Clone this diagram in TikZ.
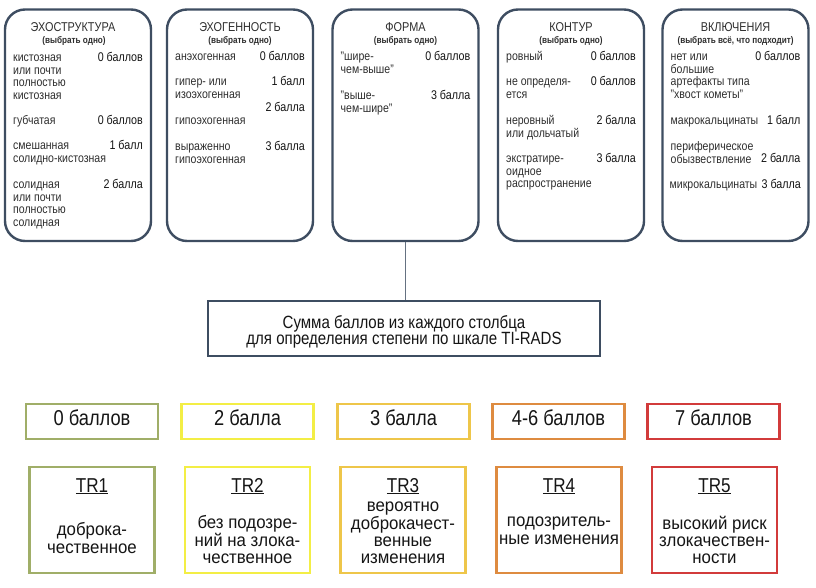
\documentclass[tikz,border=0pt]{standalone}
\usepackage{fontspec}
\setmainfont{Liberation Sans}[FakeStretch=0.85]
\setsansfont{Liberation Sans}[FakeStretch=0.85]
\newfontfamily\trfont{Liberation Sans}[FakeStretch=0.94]
\newcommand\tightls{\lineskiplimit=-20pt\relax}
\definecolor{boxc}{HTML}{3E4D61}
\definecolor{txtc}{HTML}{2E2E2E}
\definecolor{valc}{HTML}{151515}
\definecolor{cgreen}{HTML}{A0AE68}
\definecolor{cyellow}{HTML}{F3EE45}
\definecolor{cgold}{HTML}{EEC64A}
\definecolor{corange}{HTML}{DE8B40}
\definecolor{cred}{HTML}{D23B3B}
\tikzset{
  topbox/.style={draw=boxc, line width=2.4pt, rounded corners=20pt, minimum width=146pt, minimum height=231.5pt, inner sep=0pt},
  ttl/.style={anchor=base, inner sep=0pt, font=\fontsize{12.8}{13}\selectfont, text=txtc},
  sub/.style={anchor=base, inner sep=0pt, font=\fontsize{9.6}{10}\selectfont\bfseries, text=txtc},
  lab/.style={anchor=north west, inner sep=0pt, align=left, font=\fontsize{12.4}{12.7}\selectfont\tightls, text=txtc},
  val/.style={anchor=base east, inner sep=0pt, font=\fontsize{12.6}{12.7}\selectfont, text=valc},
  sumbox/.style={draw=boxc, line width=2pt, minimum width=392pt, minimum height=55pt, inner sep=0pt},
  sumt/.style={anchor=north, inner sep=0pt, align=center, font=\fontsize{17.7}{16}\selectfont\tightls, text=valc},
  conn/.style={draw=boxc!80, line width=0.9pt},
  scorebox/.style={line width=2.8pt, fill=white, minimum width=132pt, minimum height=35pt, inner sep=0pt, font=\fontsize{21.5}{22}\selectfont, text=valc, text height=0.72em, text depth=0pt},
  trbox/.style={line width=2.8pt, minimum width=125pt, minimum height=106pt, inner sep=0pt},
  trt/.style={anchor=base, inner sep=0pt, font=\fontsize{20.1}{21}\selectfont, text=valc},
  trb/.style={anchor=north, inner sep=0pt, align=center, font=\trfont\fontsize{17.9}{17.2}\selectfont\tightls, text=valc},
}
\begin{document}
\begin{tikzpicture}[x=1pt,y=-1pt]
\useasboundingbox (0,0) rectangle (816,588);
\fill[white] (0,0) rectangle (816,588);

% top boxes
\node[topbox] (b1) at (78,125.25) {};
\node[topbox] (b2) at (240,125.25) {};
\node[topbox] (b3) at (405.5,125.25) {};
\node[topbox] (b4) at (571,125.25) {};
\node[topbox] (b5) at (735.5,125.25) {};

\node[ttl] (t1) at (73,32) {ЭХОСТРУКТУРА};
\node[sub] (s1) at (74,44) {(выбрать одно)};
\node[ttl] (t2) at (240,32) {ЭХОГЕННОСТЬ};
\node[sub] (s2) at (240,44) {(выбрать одно)};
\node[ttl] (t3) at (405.5,32) {ФОРМА};
\node[sub] (s3) at (405.5,44) {(выбрать одно)};
\node[ttl] (t4) at (571,32) {КОНТУР};
\node[sub] (s4) at (571,44) {(выбрать одно)};
\node[ttl] (t5) at (735.5,32) {ВКЛЮЧЕНИЯ};
\node[sub] (s5) at (735.5,44) {(выбрать всё, что подходит)};

% box 1
\node[lab] (l1a) at (13,58-5.5) {\strut кистозная\\или почти\\полностью\\кистозная};
\node[val] (v1a) at (143,58+3.8) {0 баллов};
\node[lab] (l1b) at (13,121-5.5) {\strut губчатая};
\node[val] (v1b) at (143,121+3.8) {0 баллов};
\node[lab] (l1c) at (13,146-5.5) {\strut смешанная\\солидно-кистозная};
\node[val] (v1c) at (143,146+3.8) {1 балл};
\node[lab] (l1d) at (13,185-5.5) {\strut солидная\\или почти\\полностью\\солидная};
\node[val] (v1d) at (143,185+3.8) {2 балла};

% box 2
\node[lab] (l2a) at (175,57-5.5) {\strut анэхогенная};
\node[val] (v2a) at (305,57+3.8) {0 баллов};
\node[lab] (l2b) at (175,82-5.5) {\strut гипер- или\\изоэхогенная};
\node[val] (v2b) at (305,82+3.8) {1 балл};
\node[val] (v2c) at (305,108+3.8) {2 балла};
\node[lab] (l2c) at (175,121-5.5) {\strut гипоэхогенная};
\node[lab] (l2d) at (175,147-5.5) {\strut выраженно\\гипоэхогенная};
\node[val] (v2d) at (305,147+3.8) {3 балла};

% box 3
\node[lab] (l3a) at (340.5,57-5.5) {\strut "шире-\\чем-выше"};
\node[val] (v3a) at (470.5,57+3.8) {0 баллов};
\node[lab] (l3b) at (340.5,96-5.5) {\strut "выше-\\чем-шире"};
\node[val] (v3b) at (470.5,96+3.8) {3 балла};

% box 4
\node[lab] (l4a) at (506,57-5.5) {\strut ровный};
\node[val] (v4a) at (636,57+3.8) {0 баллов};
\node[lab] (l4b) at (506,82-5.5) {\strut не определя-\\ется};
\node[val] (v4b) at (636,82+3.8) {0 баллов};
\node[lab] (l4c) at (506,121-5.5) {\strut неровный\\или дольчатый};
\node[val] (v4c) at (636,121+3.8) {2 балла};
\node[lab] (l4d) at (506,159-5.5) {\strut экстратире-\\оидное\\распространение};
\node[val] (v4d) at (636,159+3.8) {3 балла};

% box 5
\node[lab] (l5a) at (670.5,57-5.5) {\strut нет или\\большие\\артефакты типа\\"хвост кометы"};
\node[val] (v5a) at (800.5,57+3.8) {0 баллов};
\node[lab] (l5b) at (670.5,121-5.5) {\strut макрокальцинаты};
\node[val] (v5b) at (800.5,121+3.8) {1 балл};
\node[lab] (l5c) at (670.5,147-5.5) {\strut периферическое\\обызвествление};
\node[val] (v5c) at (800.5,159+3.8) {2 балла};
\node[lab] (l5d) at (669.5,185-5.5) {\strut микрокальцинаты};
\node[val] (v5d) at (801,185+3.8) {3 балла};

% sum
\node[sumbox] (sum) at (404,328.5) {};
\node[sumt] (sumtext) at (404,322-6.5) {\strut Сумма баллов из каждого столбца\\для определения степени по шкале TI-RADS};
\draw[conn] (b3.south) -- (b3.south |- sum.north);

% score boxes
\node[scorebox, draw=cgreen] (p1) at (92,421.5) {0 баллов};
\node[scorebox, draw=cyellow] (p2) at (247.5,421.5) {2 балла};
\node[scorebox, draw=cgold] (p3) at (403.5,421.5) {3 балла};
\node[scorebox, draw=corange] (p4) at (558.5,421.5) {4-6 баллов};
\node[scorebox, draw=cred] (p5) at (713.5,421.5) {7 баллов};

% TR boxes
\node[trbox, draw=cgreen] (r1) at (92,520) {};
\node[trbox, draw=cyellow] (r2) at (247.5,520) {};
\node[trbox, draw=cgold] (r3) at (403,520) {};
\node[trbox, draw=corange] (r4) at (559,520) {};
\node[trbox, draw=cred] (r5) at (714.5,520) {};

\node[trt] (rt1) at (92,492) {\underline{TR1}};
\node[trt] (rt2) at (247.5,492) {\underline{TR2}};
\node[trt] (rt3) at (403,492) {\underline{TR3}};
\node[trt] (rt4) at (559,492) {\underline{TR4}};
\node[trt] (rt5) at (714.5,492) {\underline{TR5}};

\node[trb] (rb1) at (92,530-7.4) {\strut доброка-\\чественное};
\node[trb] (rb2) at (247.5,523-7.4) {\strut без подозре-\\ний на злока-\\чественное};
\node[trb] (rb3) at (403,507-7.4) {\strut вероятно\\доброкачест-\\венные\\изменения};
\node[trb] (rb4) at (559,522-7.4) {\strut подозритель-\\ные изменения};
\node[trb] (rb5) at (714.5,523-7.4) {\strut высокий риск\\злокачествен-\\ности};
\end{tikzpicture}
\end{document}
